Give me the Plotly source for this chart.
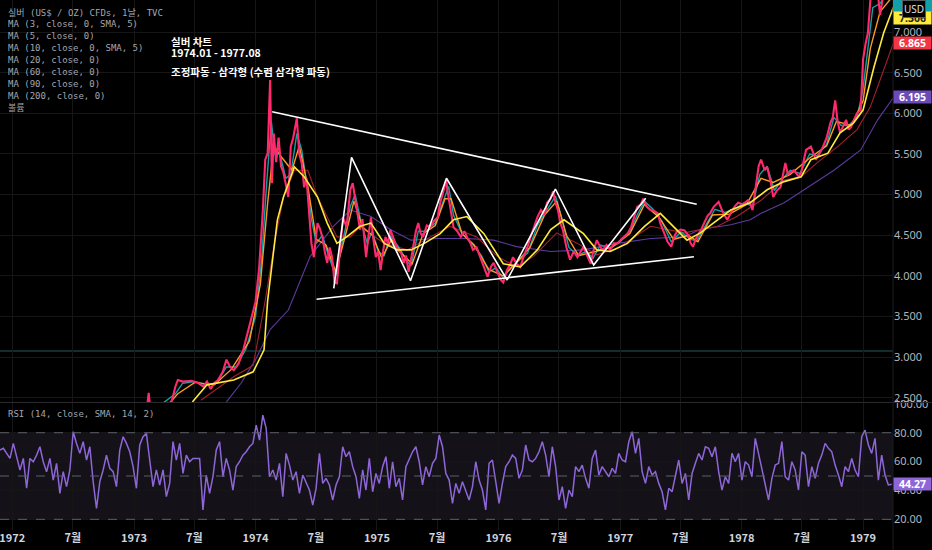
import pandas as pd
import plotly.graph_objects as go
from plotly.subplots import make_subplots

# close (decimal year, price)
close_t = [1971.90, 1972.20, 1972.50, 1972.80, 1973.00, 1973.10, 1973.12, 1973.14, 1973.30, 1973.34,
           1973.36, 1973.40, 1973.47, 1973.52, 1973.57, 1973.60, 1973.63, 1973.66, 1973.69, 1973.73,
           1973.76, 1973.79, 1973.82, 1973.86, 1973.90, 1973.94, 1973.97, 1974.00, 1974.03, 1974.06,
           1974.08, 1974.10, 1974.12, 1974.135, 1974.15, 1974.17, 1974.19, 1974.21, 1974.23, 1974.25,
           1974.27, 1974.29, 1974.31, 1974.34, 1974.36, 1974.38, 1974.40, 1974.42, 1974.44, 1974.46,
           1974.48, 1974.51, 1974.53, 1974.55, 1974.57, 1974.59, 1974.61, 1974.63, 1974.65, 1974.67,
           1974.70, 1974.72, 1974.75, 1974.78, 1974.80, 1974.82, 1974.84, 1974.86, 1974.88, 1974.91,
           1974.93, 1974.95, 1974.97, 1974.99, 1975.01, 1975.03, 1975.05, 1975.07, 1975.09, 1975.11,
           1975.14, 1975.17, 1975.20, 1975.22, 1975.24, 1975.26, 1975.28, 1975.30, 1975.32, 1975.34,
           1975.36, 1975.38, 1975.41, 1975.44, 1975.47, 1975.50, 1975.52, 1975.55, 1975.57, 1975.58,
           1975.60, 1975.63, 1975.66, 1975.69, 1975.72, 1975.74, 1975.77, 1975.79, 1975.82, 1975.85,
           1975.88, 1975.91, 1975.94, 1975.96, 1975.99, 1976.02, 1976.04, 1976.07, 1976.10, 1976.12,
           1976.15, 1976.18, 1976.21, 1976.24, 1976.27, 1976.29, 1976.32, 1976.35, 1976.38, 1976.40,
           1976.43, 1976.45, 1976.47, 1976.49, 1976.51, 1976.53, 1976.56, 1976.59, 1976.62, 1976.65,
           1976.68, 1976.70, 1976.73, 1976.76, 1976.78, 1976.81, 1976.84, 1976.86, 1976.89, 1976.92,
           1976.95, 1976.98, 1977.01, 1977.03, 1977.06, 1977.09, 1977.11, 1977.14, 1977.17, 1977.19,
           1977.22, 1977.25, 1977.28, 1977.31, 1977.33, 1977.36, 1977.39, 1977.42, 1977.45, 1977.47,
           1977.50, 1977.53, 1977.56, 1977.58, 1977.60, 1977.62, 1977.64, 1977.67, 1977.70, 1977.72,
           1977.74, 1977.77, 1977.81, 1977.84, 1977.88, 1977.91, 1977.94, 1977.97, 1978.01, 1978.05,
           1978.07, 1978.09, 1978.12, 1978.14, 1978.16, 1978.19, 1978.21, 1978.24, 1978.26, 1978.29,
           1978.32, 1978.36, 1978.38, 1978.43, 1978.47, 1978.49, 1978.53, 1978.57, 1978.61, 1978.64,
           1978.67, 1978.70, 1978.73, 1978.75, 1978.77, 1978.79, 1978.81, 1978.84, 1978.86, 1978.88,
           1978.90, 1978.92, 1978.95, 1978.98, 1979.00, 1979.02, 1979.04, 1979.06, 1979.09, 1979.12,
           1979.14, 1979.17, 1979.20, 1979.23, 1979.25]
close_v = [1.38, 1.45, 1.62, 1.90, 2.05, 2.30, 2.56, 2.28, 2.40, 2.64,
           2.72, 2.70, 2.71, 2.69, 2.64, 2.70, 2.61, 2.68, 2.72, 2.82,
           2.97, 2.88, 2.84, 2.92, 3.10, 3.34, 3.50, 3.68, 4.10, 4.80,
           5.43, 5.51, 6.41, 5.14, 5.75, 5.40, 5.70, 5.35, 5.27, 5.10,
           4.97, 5.59, 5.70, 5.94, 5.50, 5.39, 5.09, 5.20, 4.81, 4.40,
           4.23, 4.65, 4.58, 4.48, 4.30, 4.16, 4.35, 4.23, 3.92, 3.91,
           4.40, 4.72, 4.60, 5.06, 5.14, 4.95, 4.75, 4.57, 4.70, 4.23,
           4.50, 4.72, 4.45, 4.23, 4.30, 4.07, 4.30, 4.48, 4.40, 4.57,
           4.45, 4.32, 4.28, 4.16, 4.25, 4.05, 4.20, 4.40, 4.55, 4.65,
           4.52, 4.48, 4.62, 4.60, 4.68, 4.72, 4.90, 5.06, 5.18, 5.05,
           4.85, 4.60, 4.55, 4.48, 4.55, 4.48, 4.40, 4.32, 4.35, 4.23,
           4.10, 3.99, 4.12, 4.16, 4.05, 3.95, 3.92, 4.07, 4.15, 4.23,
           4.15, 4.11, 4.25, 4.36, 4.50, 4.60, 4.72, 4.81, 4.75, 4.90,
           4.95, 5.04, 4.90, 4.81, 4.65, 4.57, 4.35, 4.20, 4.30, 4.23,
           4.30, 4.36, 4.25, 4.15, 4.30, 4.44, 4.35, 4.32, 4.38, 4.32,
           4.40, 4.40, 4.45, 4.48, 4.52, 4.60, 4.70, 4.85, 4.88, 4.95,
           4.85, 4.81, 4.80, 4.77, 4.65, 4.53, 4.42, 4.36, 4.50, 4.55,
           4.57, 4.56, 4.50, 4.40, 4.36, 4.45, 4.50, 4.58, 4.68, 4.74,
           4.77, 4.85, 4.91, 4.80, 4.69, 4.78, 4.85, 4.90, 4.88, 4.93,
           4.90, 4.81, 5.10, 5.35, 5.43, 5.30, 5.34, 5.15, 4.97, 5.05,
           5.09, 5.39, 5.25, 5.30, 5.22, 5.27, 5.55, 5.59, 5.43, 5.50,
           5.59, 5.70, 5.88, 5.95, 6.16, 5.90, 5.76, 5.85, 5.92, 5.80,
           5.83, 5.90, 6.00, 6.04, 6.66, 6.85, 6.99, 7.39, 7.60, 7.50,
           7.21, 7.50, 7.65, 7.50, 7.45]

ma3_t = [1973.10, 1973.16, 1973.34, 1973.40, 1973.50, 1973.60, 1973.68, 1973.76, 1973.84, 1973.92,
         1974.00, 1974.05, 1974.09, 1974.13, 1974.16, 1974.20, 1974.25, 1974.29, 1974.34, 1974.38,
         1974.42, 1974.46, 1974.50, 1974.55, 1974.60, 1974.66, 1974.72, 1974.78, 1974.82, 1974.87,
         1974.92, 1974.96, 1975.01, 1975.06, 1975.11, 1975.18, 1975.24, 1975.28, 1975.34, 1975.40,
         1975.48, 1975.54, 1975.59, 1975.63, 1975.70, 1975.78, 1975.86, 1975.92, 1975.98, 1976.04,
         1976.10, 1976.16, 1976.24, 1976.32, 1976.40, 1976.47, 1976.52, 1976.58, 1976.65, 1976.72,
         1976.78, 1976.84, 1976.92, 1977.00, 1977.08, 1977.14, 1977.20, 1977.27, 1977.34, 1977.42,
         1977.50, 1977.58, 1977.63, 1977.70, 1977.78, 1977.86, 1977.94, 1978.02, 1978.09, 1978.15,
         1978.21, 1978.27, 1978.34, 1978.40, 1978.48, 1978.56, 1978.62, 1978.70, 1978.76, 1978.82,
         1978.88, 1978.95, 1979.00, 1979.04, 1979.08, 1979.14, 1979.20, 1979.25]
ma3_v = [2.10, 2.35, 2.55, 2.68, 2.70, 2.66, 2.68, 2.88, 2.88, 3.10,
         3.50, 4.20, 5.10, 5.90, 5.50, 5.50, 5.20, 5.25, 5.75, 5.55,
         5.15, 4.70, 4.40, 4.50, 4.25, 4.00, 4.45, 4.85, 5.00, 4.65,
         4.40, 4.55, 4.30, 4.25, 4.50, 4.35, 4.20, 4.12, 4.55, 4.55,
         4.65, 4.90, 5.10, 4.75, 4.52, 4.40, 4.25, 4.05, 4.10, 3.97,
         4.10, 4.18, 4.28, 4.62, 4.82, 4.98, 4.72, 4.35, 4.25, 4.30,
         4.22, 4.38, 4.34, 4.42, 4.55, 4.75, 4.92, 4.82, 4.68, 4.42,
         4.54, 4.45, 4.43, 4.62, 4.82, 4.78, 4.82, 4.90, 4.86, 5.25,
         5.35, 5.05, 5.20, 5.30, 5.26, 5.50, 5.48, 5.62, 5.95, 5.85,
         5.85, 5.95, 6.30, 6.80, 7.30, 7.35, 7.50, 7.55]

ma5_t = [1973.12, 1973.36, 1973.50, 1973.66, 1973.80, 1973.95, 1974.04, 1974.10, 1974.15, 1974.22,
         1974.30, 1974.36, 1974.43, 1974.50, 1974.58, 1974.66, 1974.74, 1974.81, 1974.88, 1974.96,
         1975.04, 1975.12, 1975.22, 1975.29, 1975.38, 1975.48, 1975.56, 1975.61, 1975.70, 1975.80,
         1975.92, 1976.04, 1976.14, 1976.26, 1976.38, 1976.48, 1976.56, 1976.66, 1976.80, 1976.94,
         1977.08, 1977.20, 1977.32, 1977.44, 1977.56, 1977.64, 1977.76, 1977.90, 1978.04, 1978.16,
         1978.26, 1978.40, 1978.56, 1978.70, 1978.78, 1978.90, 1979.00, 1979.06, 1979.14, 1979.25]
ma5_v = [2.15, 2.55, 2.69, 2.66, 2.85, 3.20, 3.90, 4.90, 5.60, 5.45,
         5.30, 5.60, 5.10, 4.45, 4.38, 4.05, 4.50, 4.92, 4.60, 4.50,
         4.22, 4.45, 4.25, 4.15, 4.52, 4.62, 4.95, 4.95, 4.52, 4.38,
         4.08, 4.00, 4.15, 4.35, 4.75, 4.92, 4.50, 4.25, 4.30, 4.36,
         4.52, 4.88, 4.72, 4.45, 4.50, 4.42, 4.75, 4.76, 4.88, 5.20,
         5.15, 5.25, 5.45, 5.60, 5.90, 5.85, 6.15, 6.80, 7.25, 7.45]

ma20_t = [1973.48, 1973.60, 1973.82, 1973.98, 1974.07, 1974.10, 1974.18, 1974.23, 1974.32, 1974.40,
          1974.51, 1974.59, 1974.67, 1974.75, 1974.86, 1974.95, 1975.06, 1975.17, 1975.28, 1975.39,
          1975.52, 1975.63, 1975.74, 1975.88, 1976.04, 1976.18, 1976.32, 1976.43, 1976.54, 1976.70,
          1976.81, 1976.92, 1977.06, 1977.20, 1977.33, 1977.44, 1977.55, 1977.66, 1977.80, 1977.91,
          1978.07, 1978.21, 1978.35, 1978.49, 1978.57, 1978.71, 1978.81, 1978.92, 1979.00, 1979.09,
          1979.17, 1979.25]
ma20_v = [2.45, 2.66, 2.72, 2.82, 3.09, 3.70, 4.69, 4.97, 5.34, 5.22,
          4.97, 4.65, 4.40, 4.48, 4.61, 4.65, 4.40, 4.32, 4.32, 4.40,
          4.52, 4.69, 4.73, 4.52, 4.15, 4.11, 4.32, 4.57, 4.69, 4.52,
          4.32, 4.30, 4.40, 4.61, 4.77, 4.61, 4.44, 4.53, 4.69, 4.81,
          4.90, 5.06, 5.16, 5.22, 5.43, 5.51, 5.76, 5.88, 6.04, 6.57,
          6.99, 7.306]

ma60_t = [1973.55, 1973.82, 1973.98, 1974.08, 1974.16, 1974.23, 1974.32, 1974.43, 1974.51, 1974.67,
          1974.78, 1974.86, 1975.06, 1975.25, 1975.44, 1975.60, 1975.82, 1975.99, 1976.15, 1976.29,
          1976.48, 1976.65, 1976.81, 1976.98, 1977.25, 1977.53, 1977.66, 1977.80, 1977.96, 1978.16,
          1978.35, 1978.49, 1978.62, 1978.79, 1978.95, 1979.06, 1979.14, 1979.25]
ma60_v = [2.47, 2.76, 2.90, 3.70, 4.44, 4.97, 5.30, 5.30, 4.97, 4.48,
          4.48, 4.61, 4.40, 4.32, 4.48, 4.61, 4.48, 4.24, 4.11, 4.24,
          4.53, 4.40, 4.26, 4.34, 4.61, 4.53, 4.57, 4.61, 4.73, 4.93,
          5.18, 5.22, 5.39, 5.59, 5.80, 6.08, 6.41, 6.865]

ma200_t = [1973.76, 1973.88, 1974.00, 1974.12, 1974.27, 1974.45, 1974.64, 1974.78, 1974.95, 1975.11,
           1975.28, 1975.50, 1975.74, 1975.96, 1976.15, 1976.43, 1976.70, 1976.98, 1977.25, 1977.52,
           1977.66, 1977.91, 1978.07, 1978.16, 1978.35, 1978.54, 1978.76, 1978.98, 1979.12, 1979.25]
ma200_v = [2.45, 2.68, 2.97, 3.34, 3.58, 4.24, 4.61, 4.81, 4.73, 4.57,
           4.44, 4.46, 4.46, 4.44, 4.36, 4.30, 4.32, 4.40, 4.46, 4.48,
           4.57, 4.63, 4.69, 4.77, 4.90, 5.09, 5.30, 5.55, 5.92, 6.195]

# RSI sampled every 10 days from the start of the chart
rsi_start = "1971-11-25"
rsi_v = [68.0, 69.2, 65.7, 62.2, 72.6, 62.2, 54.2, 62.2, 41.5, 62.2,
         59.9, 64.5, 70.3, 59.9, 53.0, 62.2, 47.2, 58.8, 38.0, 53.0,
         42.6, 54.2, 80.7, 72.6, 65.7, 73.8, 61.1, 70.3, 46.1, 27.6,
         46.1, 54.2, 64.5, 55.3, 53.0, 42.6, 68.0, 77.2, 72.6, 66.8,
         56.5, 41.5, 71.5, 77.2, 79.5, 61.1, 42.6, 54.2, 43.8, 54.2,
         35.7, 44.9, 73.8, 61.1, 72.6, 51.8, 64.5, 59.9, 62.2, 62.2,
         62.2, 26.5, 50.7, 38.0, 49.5, 68.0, 73.8, 49.5, 62.2, 54.2,
         40.3, 56.5, 59.9, 64.5, 66.8, 70.3, 72.6, 85.3, 74.9, 92.2,
         83.0, 49.5, 54.2, 47.2, 58.8, 35.7, 65.7, 57.6, 47.2, 53.0,
         38.0, 50.7, 44.9, 40.3, 29.9, 41.5, 65.7, 44.9, 48.4, 43.8,
         33.4, 43.8, 49.5, 70.3, 63.4, 66.8, 56.5, 49.5, 34.5, 54.2,
         40.3, 62.2, 39.1, 51.8, 44.9, 56.5, 63.4, 41.5, 59.9, 42.6,
         48.4, 33.4, 56.5, 62.2, 66.8, 70.3, 59.9, 43.8, 56.5, 49.5,
         58.8, 62.2, 78.4, 70.3, 51.8,
         47.2, 31.1, 44.9, 38.0, 46.1, 40.3, 33.4, 42.6, 59.9, 47.2,
         40.3, 26.5, 58.8, 61.1, 44.9, 31.1, 44.9, 56.5, 59.9, 64.5,
         62.2, 48.4, 54.2, 71.5, 61.1, 59.9, 62.2, 66.8, 73.8, 64.5,
         49.5, 70.3, 56.5, 33.4, 42.6, 27.6, 40.3, 35.7, 56.5, 53.0,
         57.6, 48.4, 41.5, 62.2, 68.0, 50.7, 56.5, 53.0, 49.5, 55.3,
         51.8, 65.7, 61.1, 59.9, 73.8, 80.7, 65.7, 76.1, 53.0, 44.9,
         56.5, 50.7, 53.0, 44.9, 39.1, 26.5, 41.5, 39.1, 49.5, 61.1,
         44.9, 51.8, 33.4, 51.8, 58.8, 65.7, 61.1, 70.3, 69.2, 63.4,
         70.3, 53.0, 40.3, 49.5, 44.9, 65.7, 59.9, 65.7, 47.2, 59.9,
         57.6, 49.5, 76.1, 65.7, 54.2, 44.9, 33.4, 48.4, 57.6, 58.8,
         73.8, 49.5, 47.2, 59.9, 54.2, 40.3, 66.8, 64.5, 42.6, 56.5,
         48.4, 58.8, 64.5, 72.6, 69.2, 66.8, 57.6, 50.7, 42.6, 56.5,
         53.0, 62.2, 54.2, 49.5, 77.2, 81.8, 71.5, 65.7, 76.1, 47.2,
         64.5, 50.7, 43.8, 44.27]

# drawings: triangle edges and the wave zigzag
upper_t = [1974.137, 1977.630]
upper_v = [6.020, 4.881]
lower_t = [1974.502, 1977.607]
lower_v = [3.713, 4.236]
zig_t = [1974.644, 1974.790, 1975.276, 1975.572, 1976.072, 1976.469, 1976.784, 1977.210]
zig_v = [3.848, 5.459, 3.941, 5.201, 3.950, 5.069, 4.134, 4.955]
hline_price = 3.077

tick_dates = ["1972-01-01", "1972-07-01", "1973-01-01", "1973-07-01", "1974-01-01", "1974-07-01",
              "1975-01-01", "1975-07-01", "1976-01-01", "1976-07-01", "1977-01-01", "1977-07-01",
              "1978-01-01", "1978-07-01", "1979-01-01"]
tick_text = ["1972", "7월", "1973", "7월", "1974", "7월", "1975", "7월", "1976", "7월",
             "1977", "7월", "1978", "7월", "1979"]

legend_lines = ["실버 (US$ / OZ) CFDs, 1날, TVC", "MA (3, close, 0, SMA, 5)", "MA (5, close, 0)",
                "MA (10, close, 0, SMA, 5)", "MA (20, close, 0)", "MA (60, close, 0)",
                "MA (90, close, 0)", "MA (200, close, 0)", "볼륨"]
note_lines = ["실버 차트", "1974.01 - 1977.08", "조정파동 - 삼각형 (수렴 삼각형 파동)"]


def to_date(v):
    y = int(v)
    return pd.Timestamp(year=y, month=1, day=1) + pd.to_timedelta((v - y) * 365.25, unit="D")


def dates(lst):
    return [to_date(v) for v in lst]


H = 530.0  # plot height in px, used to place paper-referenced text
W = 893.0

fig = make_subplots(rows=2, cols=1, shared_xaxes=True, vertical_spacing=0.003, row_heights=[0.76, 0.24])

lines = [
    (ma200_t, ma200_v, "#5b3b9e", 1.1),
    (ma60_t, ma60_v, "#a3202f", 1.1),
    (ma3_t, ma3_v, "#12a0a8", 1.4),
    (ma5_t, ma5_v, "#ff9a1f", 1.4),
    (close_t, close_v, "#ff2a6d", 2.1),
    (ma20_t, ma20_v, "#ffeb3b", 1.6),
]
for t, v, c, w in lines:
    fig.add_trace(go.Scatter(x=dates(t), y=v, mode="lines", line=dict(color=c, width=w),
                             showlegend=False, hoverinfo="skip"), row=1, col=1)

for t, v in [(upper_t, upper_v), (lower_t, lower_v), (zig_t, zig_v)]:
    fig.add_trace(go.Scatter(x=dates(t), y=v, mode="lines", line=dict(color="#ffffff", width=1.6),
                             showlegend=False, hoverinfo="skip"), row=1, col=1)

rsi_x = pd.date_range(rsi_start, periods=len(rsi_v), freq="10D")
fig.add_trace(go.Scatter(x=rsi_x, y=rsi_v, mode="lines", line=dict(color="#8e66d8", width=1.5),
                         showlegend=False, hoverinfo="skip"), row=2, col=1)

# RSI band and levels
fig.add_shape(type="rect", xref="x2 domain", yref="y2", x0=0, x1=1, y0=20, y1=80,
              fillcolor="#141218", line_width=0, layer="below")
for lv in [80, 50, 20]:
    fig.add_shape(type="line", xref="x2 domain", yref="y2", x0=0, x1=1, y0=lv, y1=lv,
                  line=dict(color="#5d5f68", width=1, dash="dash"))

fig.add_shape(type="line", xref="x domain", yref="y", x0=0, x1=1, y0=hline_price, y1=hline_price,
              line=dict(color="#173c3c", width=1.5), layer="below")
# pane separator and price scale border
fig.add_shape(type="line", xref="paper", yref="paper", x0=0, x1=1.05, y0=1 - 402.5 / H, y1=1 - 402.5 / H,
              line=dict(color="#2a2a2e", width=1))
fig.add_shape(type="line", xref="paper", yref="paper", x0=1, x1=1, y0=-0.04, y1=1,
              line=dict(color="#1c1c1c", width=1))

grid = "#161616"
fig.update_xaxes(type="date", range=["1971-11-25", "1979-04-01"], showgrid=True, gridcolor=grid,
                 tickvals=tick_dates, ticktext=tick_text, zeroline=False, showline=False, ticks="",
                 automargin=False, ticklabeloverflow="allow")
fig.update_xaxes(showticklabels=True, tickfont=dict(family="Noto Sans CJK KR", size=11, color="#d1d4dc",
                                                    weight="bold"), row=2, col=1)
fig.update_xaxes(showticklabels=False, row=1, col=1)

fig.update_yaxes(side="right", range=[2.449, 7.394], domain=[1 - 402 / H, 1],
                 tickvals=[2.5, 3, 3.5, 4, 4.5, 5, 5.5, 6, 6.5, 7], automargin=False,
                 tickformat=".3f", showgrid=True, gridcolor=grid, zeroline=False, ticks="",
                 tickfont=dict(family="Noto Sans", size=11, color="#b2b5be"), row=1, col=1)
fig.update_yaxes(side="right", range=[12.6, 100.6], domain=[0, 1 - 403 / H], tickvals=[20, 40, 60, 80, 100],
                 tickformat=".2f", showgrid=True, gridcolor=grid, zeroline=False, ticks="", automargin=False,
                 tickfont=dict(family="Noto Sans", size=11, color="#b2b5be"), row=2, col=1)

ann = []
for i, s in enumerate(legend_lines):
    ann.append(dict(xref="paper", yref="paper", x=6 / W, y=1 - (12.5 + 11.9 * i) / H, xanchor="left",
                    yanchor="middle", text=s, showarrow=False,
                    font=dict(family="DejaVu Sans Mono, Noto Sans CJK KR", size=9, color="#a3a6af")))
ann.append(dict(xref="paper", yref="paper", x=6 / W, y=1 - 414 / H, xanchor="left", yanchor="middle",
                text="RSI (14, close, SMA, 14, 2)", showarrow=False,
                font=dict(family="DejaVu Sans Mono", size=9, color="#a3a6af")))
for s, yc in zip(note_lines, [42, 53, 72]):
    ann.append(dict(xref="paper", yref="paper", x=169 / W, y=1 - yc / H, xanchor="left", yanchor="middle",
                    text="<b>%s</b>" % s, showarrow=False,
                    font=dict(family="Noto Sans CJK KR", size=10.5, color="#ffffff")))

# last-value tags on the price scale
tags = [
    ("y", 7.17, "7.306", "#ffeb3b", "#222222"),
    ("y", 6.865, "6.865", "#f23645", "#ffffff"),
    ("y", 6.195, "6.195", "#6c4bb8", "#ffffff"),
    ("y2", 44.27, "44.27", "#8e66d8", "#ffffff"),
]
for yr, yv, txt, bg, fc in tags:
    ann.append(dict(xref="paper", yref=yr, x=1, y=yv, xanchor="left", yanchor="middle", text="<b>%s</b>" % txt,
                    showarrow=False, bgcolor=bg, width=37, height=12, borderpad=0,
                    font=dict(family="Noto Sans", size=10.5, color=fc)))
fig.add_shape(type="rect", xref="paper", yref="paper", x0=1, x1=932 / W, y0=1 - 12 / H, y1=1.01,
              fillcolor="#12a0a8", line_width=0)
ann.append(dict(xref="paper", yref="paper", x=914 / W, y=1 - 9 / H, xanchor="center", yanchor="middle",
                text="USD", showarrow=False, bgcolor="#000000", bordercolor="#5a5a5a", borderwidth=1,
                borderpad=1, font=dict(family="Noto Sans", size=10, color="#e0e0e0")))

fig.update_layout(width=932, height=550, margin=dict(l=0, r=39, t=0, b=20, autoexpand=False),
                  plot_bgcolor="#000000", paper_bgcolor="#000000", annotations=ann, showlegend=False)

fig.write_html("out.html", config={"displayModeBar": False},
               post_script="document.body.style.margin='0';document.body.style.overflow='hidden';")
